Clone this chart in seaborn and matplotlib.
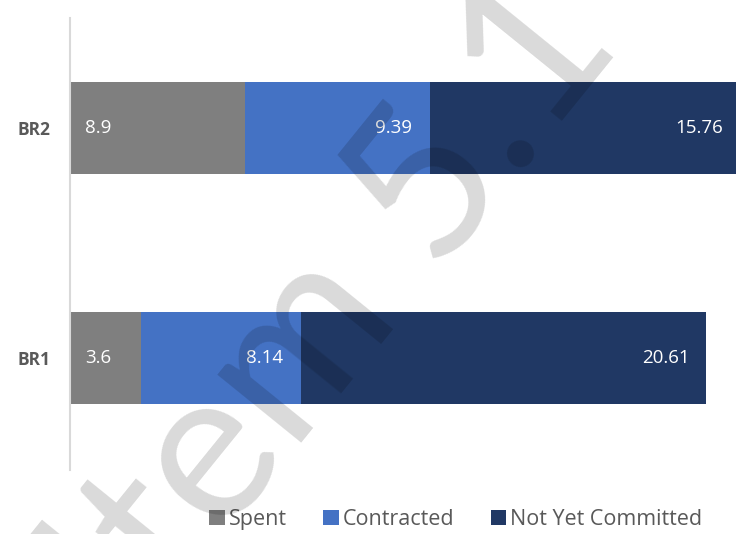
import matplotlib
matplotlib.use("Agg")
import matplotlib.pyplot as plt
import seaborn as sns
import pandas as pd
import numpy as np
from matplotlib.patches import Patch

cats = ["BR2", "BR1"]
spent = [8.9, 3.6]
contracted = [9.39, 8.14]
not_committed = [15.76, 20.61]
series_names = ["Spent", "Contracted", "Not Yet Committed"]
colors = ["#7F7F7F", "#4472C4", "#203864"]

sns.set_theme(style="white")
plt.rcParams['font.family'] = ['Open Sans', 'DejaVu Sans']

df = pd.DataFrame({"cat": cats, "spent": spent, "contracted": contracted,
                   "not_committed": not_committed})
df["c1"] = df["spent"]
df["c2"] = df["spent"] + df["contracted"]
df["c3"] = df["c2"] + df["not_committed"]

fig = plt.figure(figsize=(7.36, 5.34), dpi=100)
ax = fig.add_axes([70/736, 64/534, 1 - 70/736, 452/534])

# stacked by drawing cumulative totals back to front
for col, c in zip(["c3", "c2", "c1"], colors[::-1]):
    sns.barplot(data=df, x=col, y="cat", order=cats, color=c, width=0.4,
                orient="h", ax=ax, linewidth=0, saturation=1)

ax.set_xlim(0, 33.87)
ax.set_ylim(1.487, -0.478)
ax.set_xlabel("")
ax.set_ylabel("")
ax.set_xticks([])
for s in ["top", "right", "bottom"]:
    ax.spines[s].set_visible(False)
ax.spines["left"].set_color("#D9D9D9")
ax.spines["left"].set_linewidth(1.5)
ax.tick_params(axis="y", length=0, pad=14)
for t in ax.get_yticklabels():
    t.set_fontweight("bold")
    t.set_color("#595959")
    t.set_fontsize(12.5)

# value labels
fs = 13.5
for i in range(len(cats)):
    ax.annotate(f"{spent[i]:g}", (0, i), xytext=(11, 0), textcoords="offset points",
                ha="left", va="center", color="white", fontsize=fs)
    ax.annotate(f"{contracted[i]:g}", (df["c2"][i], i), xytext=(-13, 0),
                textcoords="offset points", ha="right", va="center",
                color="white", fontsize=fs)
    ax.annotate(f"{not_committed[i]:g}", (df["c3"][i], i), xytext=(-12, 0),
                textcoords="offset points", ha="right", va="center",
                color="white", fontsize=fs, annotation_clip=False)

handles = [Patch(facecolor=c, edgecolor="none") for c in colors]
fig.legend(handles, series_names, loc="center", bbox_to_anchor=(456/736, 0.027),
           ncol=3, frameon=False, fontsize=15.5, labelcolor="#595959",
           handlelength=0.7, handleheight=0.7, handletextpad=0.2, columnspacing=1.7,
           borderpad=0, borderaxespad=0)

# watermark
fig.text(0.452, 0.423, "Item 5.1", fontsize=153, rotation=51, color="black",
         alpha=0.15, ha="center", va="center", zorder=10, family=["Lato", "DejaVu Sans"])

fig.savefig("out.png", dpi=100)
